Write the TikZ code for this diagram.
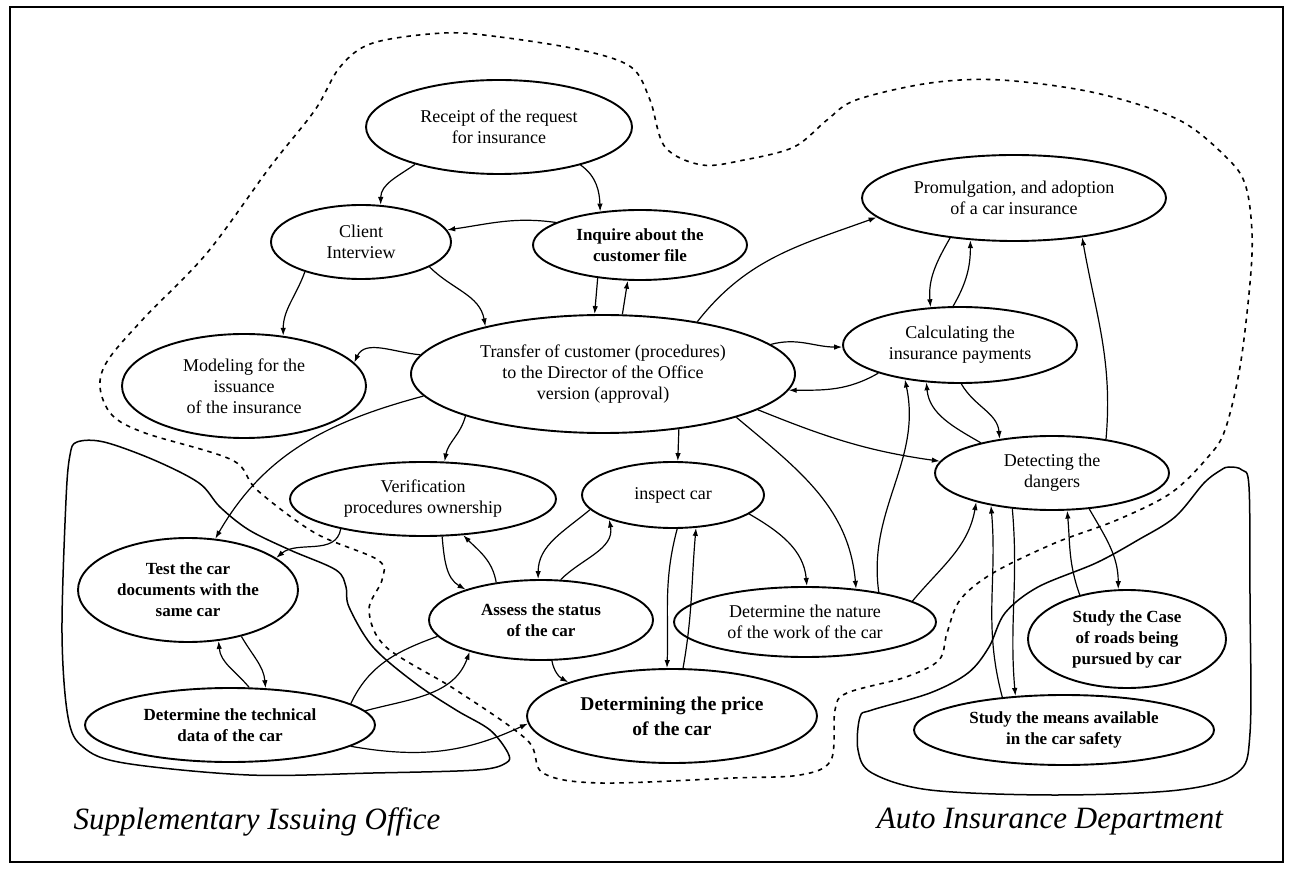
\documentclass[tikz,border=0pt]{standalone}
\usepackage{fontspec}
\setmainfont{Liberation Serif}
\usetikzlibrary{shapes.geometric,arrows.meta}
\begin{document}
\begin{tikzpicture}[x=1pt,y=1pt,
  task/.style={ellipse,draw,line width=1.9pt,inner sep=0pt,align=center,
    font=\fontsize{18}{21}\selectfont},
  btask/.style={task,font=\fontsize{17}{21}\selectfont\bfseries},
  edge/.style={line width=1.2pt,-{Latex[length=8pt,width=5.5pt]}},
  plain/.style={line width=1.2pt},
  region/.style={line width=1.5pt},
  zone/.style={line width=1.6pt,dash pattern=on 4.5pt off 5pt},
  regionlabel/.style={font=\fontsize{31}{36}\selectfont\itshape,inner sep=0pt}]
\useasboundingbox (0,0) rectangle (1289,868);
\draw[line width=1.6pt] (10,6) rectangle (1283,861);

% activities
\node[task, minimum width=266, minimum height=94] (rec) at (499,741) {Receipt of the request\\for insurance};
\node[task, minimum width=180, minimum height=74] (cli) at (361,626) {Client\\Interview};
\node[btask, minimum width=214, minimum height=70] (inq) at (640,623) {Inquire about the\\customer file};
\node[task, minimum width=304, minimum height=86] (pro) at (1014,670) {Promulgation, and adoption\\of a car insurance};
\node[task, minimum width=384, minimum height=118] (tra) at (603,494) {Transfer of customer (procedures)\\to the Director of the Office\\version (approval)};
\node[task, minimum width=244, minimum height=104] (mod) at (244,482) {Modeling for the\\issuance\\of the insurance};
\node[task, minimum width=234, minimum height=76] (cal) at (960,523) {Calculating the\\insurance payments};
\node[task, minimum width=266, minimum height=74] (ver) at (423,369) {Verification\\procedures ownership};
\node[task, minimum width=182, minimum height=66] (ins) at (673,373) {inspect car};
\node[task, minimum width=234, minimum height=74] (det) at (1052,395) {Detecting the\\dangers};
\node[btask, minimum width=220, minimum height=104] (tst) at (188,278) {Test the car\\documents with the\\same car};
\node[btask, minimum width=224, minimum height=80] (ass) at (541,248) {Assess the status\\of the car};
\node[task, minimum width=262, minimum height=70] (nat) at (805,246) {Determine the nature\\of the work of the car};
\node[btask, minimum width=198, minimum height=98] (cas) at (1127,229) {Study the Case\\of roads being\\pursued by car};
\node[btask, minimum width=290, minimum height=94, font=\fontsize{19.5}{25}\selectfont\bfseries] (pri) at (672,152) {Determining the price\\of the car};
\node[btask, minimum width=290, minimum height=74] (tec) at (230,143) {Determine the technical\\data of the car};
\node[btask, minimum width=300, minimum height=70] (mea) at (1064,138) {Study the means available\\in the car safety};

% department boundaries
\draw[zone] plot[smooth cycle, tension=0.55] coordinates {
  (444,835) (500,831) (581,818) (631,801) (650,768) (665,721) (702,703) (744,708)
  (794,721) (827,748) (856,768) (930,785) (1001,788) (1096,775) (1179,748) (1229,708)
  (1246,681) (1252,635) (1250,585) (1240,501) (1225,438) (1208,411) (1171,375) (1117,348)
  (1055,325) (993,295) (960,268) (947,235) (939,208) (906,191) (847,175) (835,158)
  (831,108) (800,93) (733,90) (600,85) (543,95) (527,128) (456,178) (386,221)
  (369,258) (382,288) (378,308) (315,335) (257,378) (232,408) (145,435) (112,453)
  (100,481) (108,508) (145,551) (207,615) (270,701) (315,758) (340,801) (373,825)};
\draw[region] plot[smooth cycle, tension=0.55] coordinates {
  (77,426) (104,426) (154,408) (199,385) (220,361) (249,338) (290,318) (336,298)
  (346,281) (349,261) (373,221) (415,185) (456,158) (490,138) (508,115) (506,105)
  (477,98) (373,95) (249,93) (124,105) (83,121) (68,151) (62,235) (66,368) (70,413)};
\draw[region] plot[smooth cycle, tension=0.55] coordinates {
  (1229,401) (1242,398) (1249,381) (1250,268) (1250,135) (1237,95) (1179,78) (1055,73)
  (930,78) (872,95) (858,118) (860,151) (872,158) (930,175) (968,195) (989,221)
  (1005,255) (1038,281) (1096,305) (1138,328) (1175,351) (1204,385) (1221,398)};

% flows
\draw[edge] (rec.204) to[out=215,in=90] (cli.62);
\draw[edge] (rec.-25) to[out=-35,in=92] (inq.140);
\draw[edge] (inq.165) to[out=172,in=8] (cli.8);
\draw[edge] (cli.208) to[out=250,in=90] (mod.52);
\draw[edge] (cli.-20) to[out=-45,in=100] (tra.158);
\draw[edge] (inq.-142) -- (tra.98);
\draw[edge] (tra.72) -- (inq.-109);
\draw[edge] (tra.174) to[out=175,in=65] (mod.12);
\draw[edge] (tra.187) to[out=195,in=60] (tst.62);
\draw[edge] (tra.197) to[out=255,in=80] (ver.60);
\draw[edge] (tra.-36) -- (ins.82);
\draw[edge] (tra.10) to[out=15,in=180] (cal.181);
\draw[edge] (cal.199) to[out=210,in=0] (tra.-5);
\draw[edge] (tra.29) to[out=52,in=200] (pro.188);
\draw[edge] (tra.-13) to[out=-22,in=172] (det.174);
\draw[edge] (tra.-18) to[out=-40,in=95] (nat.33);
\draw[edge] (nat.22) to[out=98,in=-78] (cal.-148);
\draw[edge] (pro.-148) to[out=240,in=95] (cal.128);
\draw[edge] (cal.100) to[out=60,in=-90] (pro.-136);
\draw[edge] (det.157) to[out=150,in=-85] (cal.-132);
\draw[edge] (cal.-88) to[out=-60,in=95] (det.147);
\draw[edge] (det.32) to[out=85,in=-80] (pro.-30);
\draw[edge] (ver.200) to[out=260,in=40] (tst.20);
\draw[edge] (ver.-63) to[out=-85,in=150] (ass.158);
\draw[edge] (ass.140) to[out=100,in=-45] (ver.-42);
\draw[edge] (ins.190) to[out=220,in=90] (ass.94);
\draw[edge] (ass.64) to[out=45,in=-80] (ins.-159);
\draw[edge] (ins.-83) to[out=-105,in=88] (pri.96);
\draw[edge] (pri.77) to[out=80,in=-95] (ins.-55);
\draw[edge] (ins.-14) to[out=-30,in=95] (nat.87);
\draw[edge] (ass.-75) to[out=-80,in=150] (pri.162);
\draw[edge] (tec.63) to[out=130,in=-85] (tst.-59);
\draw[edge] (tst.-41) to[out=-60,in=95] (tec.46);
\draw[edge] (tec.6) to[out=15,in=-110] (ass.-156);
\draw[plain] (tec.10) to[out=65,in=200] (ass.189);
\draw[edge] (tec.-10) to[out=-10,in=205] (pri.183);
\draw[edge] (nat.11) to[out=50,in=-100] (det.201);
\draw[edge] (mea.152) to[out=105,in=-85] (det.208);
\draw[edge] (det.222) to[out=-85,in=95] (mea.145);
\draw[edge] (cas.137) to[out=110,in=-85] (det.-68);
\draw[edge] (det.-44) to[out=-60,in=90] (cas.100);

% department names
\node[regionlabel] (office) at (257,46) {Supplementary Issuing Office};
\node[regionlabel] (dept) at (1050,46) {Auto Insurance Department};
\end{tikzpicture}
\end{document}
